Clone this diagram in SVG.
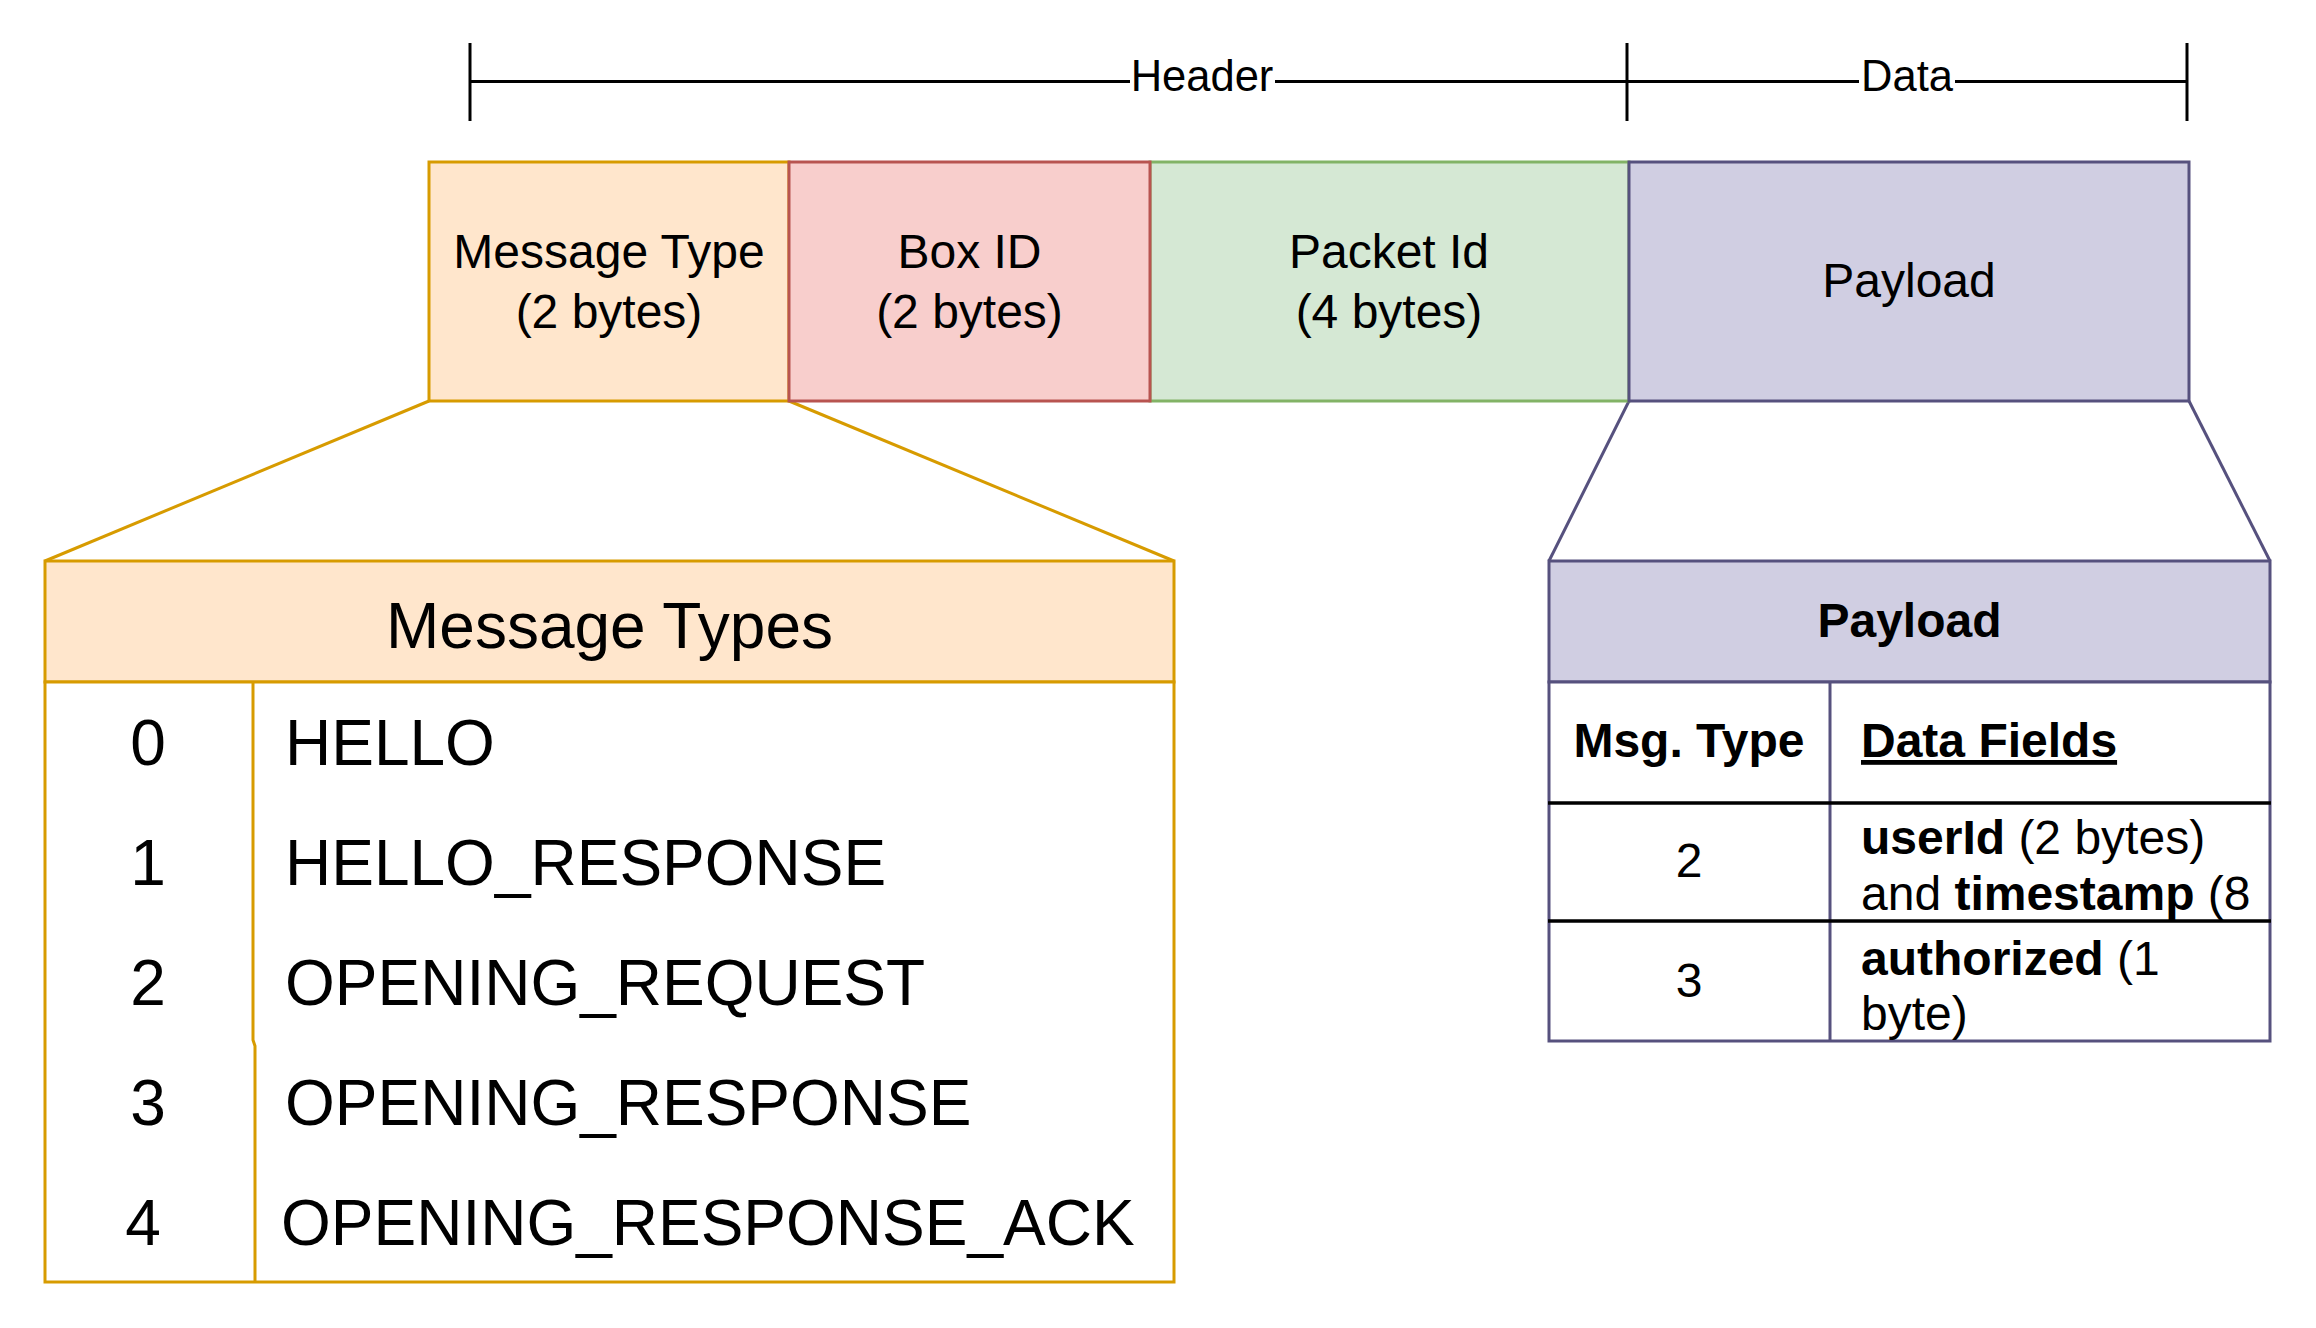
<svg xmlns="http://www.w3.org/2000/svg" width="2316" height="1328" viewBox="0 0 2316 1328">
<style>
text{font-family:"Liberation Sans",Arial,sans-serif;fill:#000}
.t47{font-size:48px}
.t63{font-size:64px}
.t42{font-size:43.5px}
.b{font-weight:bold}
.c{text-anchor:middle}
.or{fill:#ffe6cc;stroke:#d79b00;stroke-width:3}
.rd{fill:#f8cecc;stroke:#b85450;stroke-width:3}
.gr{fill:#d5e8d4;stroke:#82b366;stroke-width:3}
.pu{fill:#d0cee2;stroke:#56517e;stroke-width:3}
.wo{fill:#fff;stroke:#d79b00;stroke-width:3}
.wp{fill:#fff;stroke:#56517e;stroke-width:3}
.ln{stroke:#000;stroke-width:3;fill:none}
</style>
<defs>
<clipPath id="cr2"><rect x="1830" y="803" width="440" height="118"/></clipPath>
<clipPath id="cr3"><rect x="1830" y="921" width="440" height="119"/></clipPath>
</defs>
<rect width="2316" height="1328" fill="#fff"/>
<g id="connectors">
<g id="header-dim">
<line class="ln" x1="470" y1="81.5" x2="1130" y2="81.5"/>
<line class="ln" x1="1275" y1="81.5" x2="1627" y2="81.5"/>
<line class="ln" x1="470" y1="43" x2="470" y2="121"/>
<line class="ln" x1="1627" y1="43" x2="1627" y2="121"/>
<text class="t42 c" x="1202" y="91">Header</text>
</g>
<g id="data-dim">
<line class="ln" x1="1627" y1="81.5" x2="1859" y2="81.5"/>
<line class="ln" x1="1955" y1="81.5" x2="2187" y2="81.5"/>
<line class="ln" x1="2187" y1="43" x2="2187" y2="121"/>
<text class="t42 c" x="1907" y="91">Data</text>
</g>
<line x1="429" y1="401" x2="45" y2="561" stroke="#d79b00" stroke-width="3"/>
<line x1="789" y1="401" x2="1174" y2="561" stroke="#d79b00" stroke-width="3"/>
<line x1="1629" y1="401" x2="1549" y2="561" stroke="#56517e" stroke-width="3"/>
<line x1="2189" y1="401" x2="2270" y2="561" stroke="#56517e" stroke-width="3"/>
</g>
<g id="message-type">
<rect class="or" x="429" y="162" width="360" height="239"/>
<text class="t47 c" x="609" y="268">Message Type</text>
<text class="t47 c" x="609" y="328">(2 bytes)</text>
</g>
<g id="packet-id">
<rect class="gr" x="1150" y="162" width="479" height="239"/>
<text class="t47 c" x="1389" y="268">Packet Id</text>
<text class="t47 c" x="1389" y="328">(4 bytes)</text>
</g>
<g id="box-id">
<rect class="rd" x="789" y="162" width="361" height="239"/>
<text class="t47 c" x="969.5" y="268">Box ID</text>
<text class="t47 c" x="969.5" y="328">(2 bytes)</text>
</g>
<g id="payload">
<rect class="pu" x="1629" y="162" width="560" height="239"/>
<text class="t47 c" x="1909" y="297">Payload</text>
</g>
<g id="message-types-table">
<rect class="or" x="45" y="561" width="1129" height="121"/>
<text class="t63 c" x="609.5" y="648">Message Types</text>
<rect class="wo" x="45" y="682" width="1129" height="600"/>
<path d="M253 682 V1040 L255 1046 V1282" fill="none" stroke="#d79b00" stroke-width="3"/>
<text class="t63 c" x="148" y="765">0</text>
<text class="t63" x="285" y="765">HELLO</text>
<text class="t63 c" x="148" y="885">1</text>
<text class="t63" x="285" y="885">HELLO_RESPONSE</text>
<text class="t63 c" x="148" y="1005">2</text>
<text class="t63" x="285" y="1005">OPENING_REQUEST</text>
<text class="t63 c" x="148" y="1125">3</text>
<text class="t63" x="285" y="1125">OPENING_RESPONSE</text>
<text class="t63 c" x="143" y="1245">4</text>
<text class="t63" x="281" y="1245">OPENING_RESPONSE_ACK</text>
</g>
<g id="payload-table">
<rect class="pu" x="1549" y="561" width="721" height="121"/>
<text class="t47 b c" x="1909.5" y="637">Payload</text>
<rect class="wp" x="1549" y="682" width="721" height="359"/>
<line x1="1830" y1="682" x2="1830" y2="1041" stroke="#56517e" stroke-width="3"/>
<text class="t47 b c" x="1689" y="757">Msg. Type</text>
<text class="t47 b" x="1861" y="757" text-decoration="underline">Data Fields</text>
<text class="t47 c" x="1689" y="877">2</text>
<g clip-path="url(#cr2)">
<text class="t47" x="1861" y="854"><tspan class="b">userId</tspan> (2 bytes)</text>
<text class="t47" x="1861" y="910">and <tspan class="b">timestamp</tspan> (8</text>
</g>
<text class="t47 c" x="1689" y="997">3</text>
<g clip-path="url(#cr3)">
<text class="t47" x="1861" y="975"><tspan class="b">authorized</tspan> (1</text>
<text class="t47" x="1861" y="1030">byte)</text>
</g>
<line x1="1548" y1="803" x2="2271" y2="803" stroke="#000" stroke-width="3.5"/>
<line x1="1548" y1="921" x2="2271" y2="921" stroke="#000" stroke-width="3.5"/>
</g>
</svg>
